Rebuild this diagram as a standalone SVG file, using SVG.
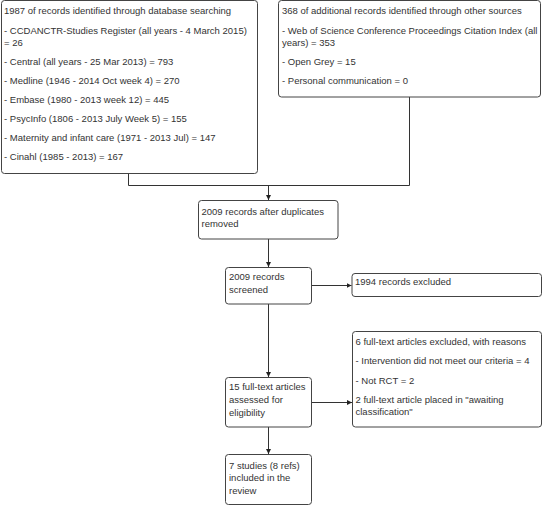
<svg xmlns="http://www.w3.org/2000/svg" width="543" height="506" viewBox="0 0 543 506">
<style>
.box{fill:#fff;stroke:#444;stroke-width:1}
text{font-family:"Liberation Sans",Arial,sans-serif;font-size:9.5px;fill:#333}
.ln{fill:none;stroke:#333;stroke-width:1}
</style>
<defs>
<marker id="ah" markerWidth="5" markerHeight="5" refX="5" refY="2.5" orient="auto" markerUnits="userSpaceOnUse">
<path d="M0,0 L5,2.5 L0,5 z" fill="#222"/>
</marker>
</defs>
<rect width="543" height="506" fill="#fff"/>
<g id="connectors">
<path class="ln" d="M128.5,173 V185.5 H409.5 V97"/>
<path class="ln" d="M268.5,185.5 V200" marker-end="url(#ah)"/>
<path class="ln" d="M268.5,239 V267" marker-end="url(#ah)"/>
<path class="ln" d="M311.5,285.5 H351.5" marker-end="url(#ah)"/>
<path class="ln" d="M268.5,304 V377" marker-end="url(#ah)"/>
<path class="ln" d="M311.5,402.5 H352" marker-end="url(#ah)"/>
<path class="ln" d="M268.5,427 V454" marker-end="url(#ah)"/>
</g>
<g id="db">
<rect class="box" x="1.5" y="0.5" width="256" height="173" rx="3"/>
<text x="4" y="14">1987 of records identified through database searching</text>
<text x="4" y="33.5">- CCDANCTR-Studies Register (all years - 4 March 2015)</text>
<text x="4" y="46">= 26</text>
<text x="4" y="65">- Central (all years - 25 Mar 2013) = 793</text>
<text x="4" y="84">- Medline (1946 - 2014 Oct week 4) = 270</text>
<text x="4" y="103">- Embase (1980 - 2013 week 12) = 445</text>
<text x="4" y="122">- PsycInfo (1806 - 2013 July Week 5) = 155</text>
<text x="4" y="141">- Maternity and infant care (1971 - 2013 Jul) = 147</text>
<text x="4" y="160">- Cinahl (1985 - 2013) = 167</text>
</g>
<g id="other">
<rect class="box" x="278.5" y="0.5" width="262" height="96.5" rx="3"/>
<text x="282" y="14">368 of additional records identified through other sources</text>
<text x="282" y="33.5">- Web of Science Conference Proceedings Citation Index (all</text>
<text x="282" y="46">years) = 353</text>
<text x="282" y="65">- Open Grey = 15</text>
<text x="282" y="84">- Personal communication = 0</text>
</g>
<g id="dedup">
<rect class="box" x="198.5" y="200.5" width="139.5" height="38.5" rx="3"/>
<text x="201.5" y="215">2009 records after duplicates</text>
<text x="201.5" y="227">removed</text>
</g>
<g id="screened">
<rect class="box" x="225.5" y="267.5" width="86" height="36.5" rx="3"/>
<text x="229" y="280">2009 records</text>
<text x="229" y="293">screened</text>
</g>
<g id="excluded">
<rect class="box" x="352" y="273.5" width="189.5" height="23" rx="3"/>
<text x="355" y="285">1994 records excluded</text>
</g>
<g id="ftexcluded">
<rect class="box" x="352.5" y="331.5" width="189" height="95.5" rx="3"/>
<text x="355.5" y="345">6 full-text articles excluded, with reasons</text>
<text x="355.5" y="364">- Intervention did not meet our criteria = 4</text>
<text x="355.5" y="383.5">- Not RCT = 2</text>
<text x="355.5" y="403">2 full-text article placed in "awaiting</text>
<text x="355.5" y="415">classification"</text>
</g>
<g id="assessed">
<rect class="box" x="225.5" y="377.5" width="86" height="49.5" rx="3"/>
<text x="229" y="390">15 full-text articles</text>
<text x="229" y="403">assessed for</text>
<text x="229" y="415.5">eligibility</text>
</g>
<g id="included">
<rect class="box" x="225.5" y="454.5" width="86" height="50" rx="3"/>
<text x="229" y="468.5">7 studies (8 refs)</text>
<text x="229" y="481">included in the</text>
<text x="229" y="494">review</text>
</g>
</svg>
